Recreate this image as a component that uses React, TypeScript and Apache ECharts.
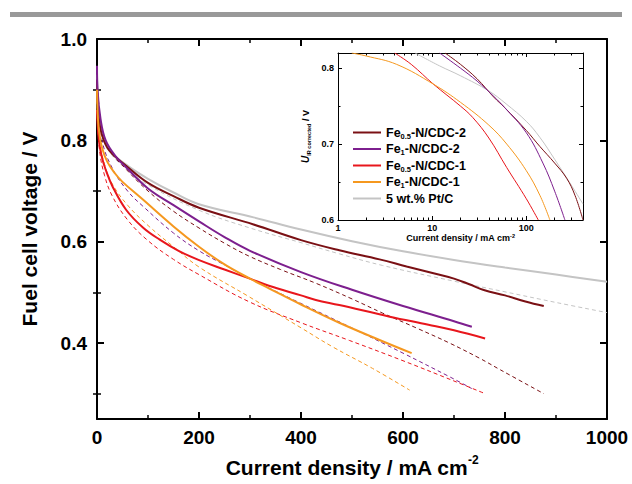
import React, { useEffect, useRef } from 'react';
import * as echarts from 'echarts';

type Pt = [number, number];

const seriesNames = ['Fe0.5-N/CDC-2', 'Fe1-N/CDC-2', 'Fe0.5-N/CDC-1', 'Fe1-N/CDC-1', '5 wt.% Pt/C'];
const seriesColors = ['#7a1014', '#7d1f8e', '#e8161c', '#f5981f', '#c4c4c4'];

// Main chart: solid curves (current density mA cm-2, voltage V)
const mainFe05Cdc2: Pt[] = [[0, 0.92], [3, 0.85], [10, 0.81], [24, 0.78], [57, 0.75], [100, 0.716], [150, 0.69], [200, 0.667], [307, 0.634], [400, 0.603], [475, 0.583], [554, 0.565], [607, 0.551], [650, 0.54], [700, 0.527], [730, 0.516], [760, 0.504], [800, 0.494], [840, 0.482], [876, 0.473]];
const mainFe1Cdc2: Pt[] = [[0, 0.947], [1, 0.9], [7, 0.842], [17, 0.8], [37, 0.768], [57, 0.747], [100, 0.705], [150, 0.672], [200, 0.64], [250, 0.609], [300, 0.582], [400, 0.54], [500, 0.505], [600, 0.473], [700, 0.443], [735, 0.432]];
const mainFe05Cdc1: Pt[] = [[0, 0.86], [2, 0.82], [5, 0.79], [10, 0.765], [17, 0.742], [30, 0.71], [57, 0.663], [90, 0.628], [123, 0.604], [160, 0.582], [199, 0.564], [250, 0.545], [297, 0.528], [337, 0.513], [400, 0.494], [429, 0.485], [475, 0.475], [574, 0.452], [650, 0.436], [700, 0.425], [761, 0.409]];
const mainFe1Cdc1: Pt[] = [[0, 0.9], [2, 0.84], [5, 0.81], [10, 0.785], [20, 0.758], [35, 0.735], [50, 0.718], [90, 0.683], [150, 0.63], [200, 0.59], [250, 0.555], [300, 0.527], [337, 0.508], [400, 0.476], [475, 0.44], [554, 0.406], [617, 0.38]];
const mainPtC: Pt[] = [[0, 0.93], [3, 0.85], [10, 0.81], [24, 0.78], [57, 0.752], [100, 0.724], [150, 0.697], [200, 0.674], [307, 0.648], [400, 0.624], [500, 0.601], [600, 0.581], [700, 0.564], [800, 0.549], [900, 0.535], [1000, 0.521]];

// Main chart: dashed curves
const dashFe05Cdc2: Pt[] = [[0, 0.92], [10, 0.82], [25, 0.78], [57, 0.743], [100, 0.7], [150, 0.66], [200, 0.627], [250, 0.597], [297, 0.572], [360, 0.545], [429, 0.518], [500, 0.487], [560, 0.459], [630, 0.428], [691, 0.4], [750, 0.37], [791, 0.347], [876, 0.3]];
const dashFe1Cdc2: Pt[] = [[0, 0.9], [10, 0.8], [30, 0.745], [60, 0.7], [90, 0.67], [150, 0.617], [200, 0.582], [254, 0.552], [300, 0.527], [400, 0.478], [495, 0.432], [600, 0.38], [692, 0.333], [735, 0.31]];
const dashFe05Cdc1: Pt[] = [[0, 0.86], [5, 0.78], [15, 0.73], [30, 0.69], [60, 0.643], [100, 0.602], [150, 0.565], [200, 0.535], [297, 0.482], [400, 0.44], [495, 0.405], [600, 0.365], [700, 0.325], [761, 0.3]];
const dashFe1Cdc1: Pt[] = [[0, 0.88], [5, 0.8], [15, 0.752], [30, 0.714], [60, 0.672], [100, 0.632], [150, 0.59], [200, 0.55], [297, 0.492], [400, 0.43], [461, 0.393], [540, 0.35], [613, 0.307]];
const dashPtC: Pt[] = [[0, 0.92], [10, 0.81], [30, 0.77], [60, 0.742], [100, 0.712], [200, 0.662], [300, 0.627], [400, 0.598], [475, 0.576], [560, 0.553], [700, 0.522], [800, 0.501], [900, 0.48], [1000, 0.46]];

// Inset: IR-corrected voltage vs log current density
const insetFe05Cdc2: Pt[] = [[13.7, 0.82], [20, 0.805], [30, 0.786], [45, 0.762], [59, 0.748], [100, 0.718], [139, 0.697], [200, 0.675], [268, 0.655], [330, 0.632], [400, 0.6]];
const insetFe1Cdc2: Pt[] = [[12, 0.82], [20, 0.8], [30, 0.783], [45, 0.763], [59, 0.748], [100, 0.715], [150, 0.675], [200, 0.638], [257, 0.6]];
const insetFe05Cdc1: Pt[] = [[4, 0.82], [6, 0.805], [10.3, 0.779], [20, 0.75], [27, 0.735], [40, 0.708], [62, 0.669], [100, 0.628], [134, 0.6]];
const insetFe1Cdc1: Pt[] = [[1.4, 0.82], [2, 0.816], [4.2, 0.805], [10.3, 0.779], [20, 0.755], [40, 0.725], [62, 0.7], [100, 0.665], [140, 0.632], [178, 0.6]];
const insetPtC: Pt[] = [[6.6, 0.82], [12, 0.803], [20, 0.79], [40, 0.77], [61, 0.753], [100, 0.73], [139, 0.709], [200, 0.68], [300, 0.646], [400, 0.621]];

// Axis ticks
const mainYMajor = [0.4, 0.6, 0.8, 1.0];
const mainYMinor = [0.3, 0.5, 0.7, 0.9];
const insetYMajor = [0.6, 0.7, 0.8];
const insetYMinor = [0.65, 0.75];
const insetXMinor = [2, 3, 4, 5, 6, 7, 8, 9, 20, 30, 40, 50, 60, 70, 80, 90, 200, 300, 400];

const legendLabels: Record<string, string> = {
  'Fe0.5-N/CDC-2': '{b|Fe}{s|0.5}{b|-N/CDC-2}',
  'Fe1-N/CDC-2': '{b|Fe}{s|1}{b|-N/CDC-2}',
  'Fe0.5-N/CDC-1': '{b|Fe}{s|0.5}{b|-N/CDC-1}',
  'Fe1-N/CDC-1': '{b|Fe}{s|1}{b|-N/CDC-1}',
  '5 wt.% Pt/C': '{b|5 wt.% Pt/C}',
};

const FONT = "'Liberation Sans', Arial, Helvetica, sans-serif";
const BLACK = '#000';

export default function App() {
  const ref = useRef<HTMLDivElement>(null);
  useEffect(() => {
    const chart = echarts.init(ref.current!, null, { renderer: 'svg' });

    const mainSolid = [mainFe05Cdc2, mainFe1Cdc2, mainFe05Cdc1, mainFe1Cdc1, mainPtC];
    const mainDash = [dashFe05Cdc2, dashFe1Cdc2, dashFe05Cdc1, dashFe1Cdc1, dashPtC];
    const inset = [insetFe05Cdc2, insetFe1Cdc2, insetFe05Cdc1, insetFe1Cdc1, insetPtC];

    const lbl = { color: BLACK, fontWeight: 'bold', fontFamily: FONT };

    const mainX = { gridIndex: 0, type: 'value', min: 0, max: 1000, interval: 200, splitLine: { show: false } };
    const mainTickStyle = { inside: true, length: 7, lineStyle: { color: BLACK, width: 2 } };
    const mainMinor = { show: true, splitNumber: 2, length: 4, lineStyle: { color: BLACK, width: 1.5 } };
    const mainAxisLine = { show: true, onZero: false, lineStyle: { color: BLACK, width: 2 } };
    const mainY = { gridIndex: 0, type: 'value', min: 0.25, max: 1.0, splitLine: { show: false } };

    const insX = { gridIndex: 1, type: 'log', logBase: 10, min: 1, max: 400, splitLine: { show: false } };
    const insAxisLine = { show: true, onZero: false, lineStyle: { color: BLACK, width: 1 } };
    const insY = { gridIndex: 1, type: 'value', min: 0.6, max: 0.82, splitLine: { show: false } };

    const series: any[] = [];
    [4, 0, 1, 2, 3].forEach((i) => {
      series.push({
        type: 'line', name: seriesNames[i] + ' (dashed)', data: mainDash[i], xAxisIndex: 0, yAxisIndex: 0,
        showSymbol: false, symbol: 'none', smooth: 0.4, silent: true,
        lineStyle: { color: seriesColors[i], width: 1, type: [4, 3] }, itemStyle: { color: seriesColors[i] },
      });
    });
    [4, 0, 1, 2, 3].forEach((i) => {
      series.push({
        type: 'line', name: seriesNames[i], data: mainSolid[i], xAxisIndex: 0, yAxisIndex: 0,
        showSymbol: false, symbol: 'none', smooth: 0.4, silent: true,
        lineStyle: { color: seriesColors[i], width: 2 }, itemStyle: { color: seriesColors[i] },
      });
    });
    [4, 0, 1, 2, 3].forEach((i) => {
      series.push({
        type: 'line', name: seriesNames[i], data: inset[i], xAxisIndex: 2, yAxisIndex: 4,
        showSymbol: false, symbol: 'none', smooth: 0.4, silent: true,
        lineStyle: { color: seriesColors[i], width: 1 }, itemStyle: { color: seriesColors[i] },
      });
    });

    const option: any = {
      animation: false,
      backgroundColor: '#fff',
      textStyle: { fontFamily: FONT },
      graphic: [
        { type: 'rect', shape: { x: 10, y: 12, width: 612, height: 5 }, style: { fill: '#999' }, silent: true },
      ],
      grid: [
        { left: 97, right: 25, top: 39, bottom: 65, containLabel: false },
        { left: 338, top: 53, width: 245, height: 167, containLabel: false },
      ],
      legend: {
        show: true, data: seriesNames, left: 353, top: 126, orient: 'vertical',
        icon: 'rect', itemGap: 2.5, itemWidth: 28, itemHeight: 2, padding: 0,
        textStyle: {
          color: BLACK, fontFamily: FONT, fontWeight: 'bold', fontSize: 12.5,
          rich: {
            b: { color: BLACK, fontFamily: FONT, fontWeight: 'bold', fontSize: 12.5, lineHeight: 15 },
            s: { color: BLACK, fontFamily: FONT, fontWeight: 'bold', fontSize: 7.5, verticalAlign: 'bottom' },
          },
        },
        formatter: (n: string) => legendLabels[n] || n,
      },
      xAxis: [
        {
          ...mainX, position: 'bottom', axisLine: mainAxisLine, axisTick: { show: true, ...mainTickStyle }, minorTick: mainMinor,
          axisLabel: { show: true, margin: 9, fontSize: 19, formatter: (v: number) => String(v), ...lbl },
          name: '{t|Current density / mA cm}{sup|-2}', nameLocation: 'middle', nameGap: 35,
          nameTextStyle: {
            rich: {
              t: { fontSize: 21, lineHeight: 26, ...lbl },
              sup: { fontSize: 12, verticalAlign: 'top', ...lbl },
            },
          },
        },
        {
          ...mainX, position: 'top', axisLine: mainAxisLine, axisTick: { show: true, ...mainTickStyle }, minorTick: mainMinor,
          axisLabel: { show: false },
        },
        {
          ...insX, position: 'bottom', axisLine: insAxisLine,
          axisTick: { show: true, inside: true, length: 4, lineStyle: { color: BLACK, width: 1 } },
          axisLabel: { show: true, margin: 3, fontSize: 9, showMaxLabel: false, formatter: (v: number) => String(v), ...lbl },
          name: '{t|Current density / mA cm}{sup|-2}', nameLocation: 'middle', nameGap: 12,
          nameTextStyle: {
            rich: {
              t: { fontSize: 9, lineHeight: 11, ...lbl },
              sup: { fontSize: 5.5, verticalAlign: 'top', ...lbl },
            },
          },
        },
        {
          ...insX, position: 'top', axisLine: insAxisLine,
          axisTick: { show: true, inside: true, length: 4, lineStyle: { color: BLACK, width: 1 } },
          axisLabel: { show: false },
        },
        {
          ...insX, position: 'bottom', axisLine: { show: false },
          axisTick: { show: true, inside: true, length: 2.5, customValues: insetXMinor, lineStyle: { color: BLACK, width: 1 } },
          axisLabel: { show: false },
        },
        {
          ...insX, position: 'top', axisLine: { show: false },
          axisTick: { show: true, inside: true, length: 2.5, customValues: insetXMinor, lineStyle: { color: BLACK, width: 1 } },
          axisLabel: { show: false },
        },
      ],
      yAxis: [
        {
          ...mainY, position: 'left', axisLine: mainAxisLine,
          axisTick: { show: true, ...mainTickStyle, customValues: mainYMajor },
          axisLabel: { show: true, margin: 10, fontSize: 19, customValues: mainYMajor, formatter: (v: number) => v.toFixed(1), ...lbl },
          name: 'Fuel cell voltage / V', nameLocation: 'middle', nameGap: 57,
          nameTextStyle: { fontSize: 21, ...lbl },
        },
        {
          ...mainY, position: 'right', axisLine: mainAxisLine,
          axisTick: { show: true, ...mainTickStyle, customValues: mainYMajor },
          axisLabel: { show: false },
        },
        {
          ...mainY, position: 'left', axisLine: { show: false },
          axisTick: { show: true, inside: true, length: 4, lineStyle: { color: BLACK, width: 1.5 }, customValues: mainYMinor },
          axisLabel: { show: false },
        },
        {
          ...mainY, position: 'right', axisLine: { show: false },
          axisTick: { show: true, inside: true, length: 4, lineStyle: { color: BLACK, width: 1.5 }, customValues: mainYMinor },
          axisLabel: { show: false },
        },
        {
          ...insY, position: 'left', axisLine: insAxisLine,
          axisTick: { show: true, inside: true, length: 4, lineStyle: { color: BLACK, width: 1 }, customValues: insetYMajor },
          axisLabel: { show: true, margin: 4, fontSize: 9, customValues: insetYMajor, formatter: (v: number) => v.toFixed(1), ...lbl },
          name: '{u|U}{s|IR corrected}{t| / V}', nameLocation: 'middle', nameGap: 26,
          nameTextStyle: {
            rich: {
              u: { fontSize: 10, fontStyle: 'italic', lineHeight: 13, ...lbl },
              s: { fontSize: 5.5, verticalAlign: 'bottom', ...lbl },
              t: { fontSize: 9, lineHeight: 13, ...lbl },
            },
          },
        },
        {
          ...insY, position: 'right', axisLine: insAxisLine,
          axisTick: { show: true, inside: true, length: 4, lineStyle: { color: BLACK, width: 1 }, customValues: insetYMajor },
          axisLabel: { show: false },
        },
        {
          ...insY, position: 'left', axisLine: { show: false },
          axisTick: { show: true, inside: true, length: 2.5, lineStyle: { color: BLACK, width: 1 }, customValues: insetYMinor },
          axisLabel: { show: false },
        },
        {
          ...insY, position: 'right', axisLine: { show: false },
          axisTick: { show: true, inside: true, length: 2.5, lineStyle: { color: BLACK, width: 1 }, customValues: insetYMinor },
          axisLabel: { show: false },
        },
      ],
      series,
    };

    chart.setOption(option);
    return () => chart.dispose();
  }, []);

  return (
    <div
      ref={ref}
      style={{ position: 'fixed', left: 0, top: 0, width: 632, height: 484, background: '#fff' }}
    />
  );
}
